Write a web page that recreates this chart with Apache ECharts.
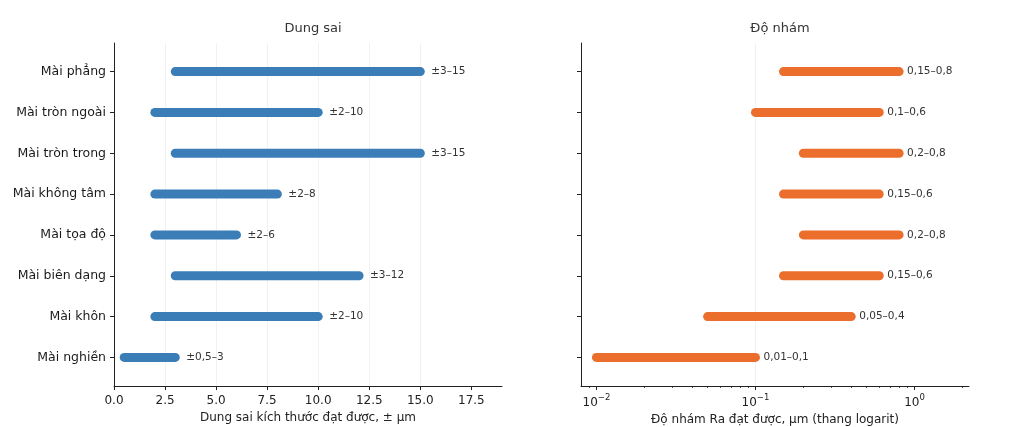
<!DOCTYPE html>
<html>
<head>
<meta charset="utf-8">
<script src="https://cdn.jsdelivr.net/npm/echarts@6/dist/echarts.min.js"></script>
<style>html,body{margin:0;padding:0;background:#fff;}#c{width:1024px;height:427px;}</style>
</head>
<body>
<div id="c"></div>
<script>
const categories = ['Mài phẳng','Mài tròn ngoài','Mài tròn trong','Mài không tâm','Mài tọa độ','Mài biên dạng','Mài khôn','Mài nghiền'];
const tolMin = [3, 2, 3, 2, 2, 3, 2, 0.5];
const tolMax = [15, 10, 15, 8, 6, 12, 10, 3];
const tolLabels = ['±3–15','±2–10','±3–15','±2–8','±2–6','±3–12','±2–10','±0,5–3'];
const raMin = [0.15, 0.1, 0.2, 0.15, 0.2, 0.15, 0.05, 0.01];
const raMax = [0.8, 0.6, 0.8, 0.6, 0.8, 0.6, 0.4, 0.1];
const raLabels = ['0,15–0,8','0,1–0,6','0,2–0,8','0,15–0,6','0,2–0,8','0,15–0,6','0,05–0,4','0,01–0,1'];
const tolTicks = [0, 2.5, 5, 7.5, 10, 12.5, 15, 17.5];
const raTicks = [0.01, 0.1, 1];
const raTickExp = ['−2','−1','0'];
const raMinorTicks = [0.009,0.02,0.03,0.04,0.05,0.06,0.07,0.08,0.09,0.2,0.3,0.4,0.5,0.6,0.7,0.8,0.9,2];

const FONT = 'DejaVu Sans';
const rows = categories.map((c, i) => i);

function makeRender(color, labels, off) {
  return function (params, api) {
    const y = api.value(1);
    const p1 = api.coord([api.value(0), y]);
    const p2 = api.coord([api.value(2), y]);
    return {
      type: 'group',
      children: [
        { type: 'line', shape: { x1: p1[0], y1: p1[1], x2: p2[0], y2: p2[1] },
          style: { stroke: color, lineWidth: 9, lineCap: 'round' } },
        { type: 'text', x: p2[0] + off, y: p2[1],
          style: { text: labels[params.dataIndex], fill: '#333', font: '10.5px "' + FONT + '"', verticalAlign: 'middle', align: 'left' } }
      ]
    };
  };
}

const yBase = {
  type: 'value', min: -0.7, max: 7.7, inverse: true,
  axisLine: { show: true, onZero: false, lineStyle: { color: '#222', width: 1 } },
  axisTick: { show: true, length: 4, customValues: rows, lineStyle: { color: '#222' } },
  splitLine: { show: false }
};

const chart = echarts.init(document.getElementById('c'));
chart.setOption({
  animation: false,
  backgroundColor: '#fff',
  textStyle: { fontFamily: FONT },
  title: [
    { text: 'Dung sai', left: 308, top: 17, textAlign: 'center', textStyle: { fontSize: 13, fontWeight: 'normal', color: '#333', fontFamily: FONT } },
    { text: 'Độ nhám', left: 775, top: 17, textAlign: 'center', textStyle: { fontSize: 13, fontWeight: 'normal', color: '#333', fontFamily: FONT } }
  ],
  grid: [
    { left: 114, right: 522, top: 43, bottom: 41, containLabel: false, outerBoundsMode: 'none' },
    { left: 581, right: 55, top: 43, bottom: 41, containLabel: false, outerBoundsMode: 'none' }
  ],
  xAxis: [
    { type: 'value', gridIndex: 0, min: 0, max: 19, interval: 2.5,
      name: 'Dung sai kích thước đạt được, ± μm', nameLocation: 'middle', nameGap: 26,
      nameTextStyle: { fontSize: 12, color: '#222', fontFamily: FONT },
      axisLine: { onZero: false, lineStyle: { color: '#222', width: 1 } },
      axisTick: { length: 4, customValues: tolTicks, lineStyle: { color: '#222' } },
      axisLabel: { customValues: tolTicks, fontSize: 12, color: '#222', margin: 9, fontFamily: FONT,
        formatter: v => v.toFixed(1) },
      splitLine: { show: true, showMinLine: false, showMaxLine: false, lineStyle: { color: '#eeeeee', width: 0.8 } } },
    { type: 'log', gridIndex: 1, logBase: 10, min: 0.008, max: 2.2,
      name: 'Độ nhám Ra đạt được, μm (thang logarit)', nameLocation: 'middle', nameGap: 26,
      nameTextStyle: { fontSize: 12, color: '#222', fontFamily: FONT },
      axisLine: { onZero: false, lineStyle: { color: '#222', width: 1 } },
      axisTick: { length: 4, customValues: raTicks, lineStyle: { color: '#222' } },
      axisLabel: { customValues: raTicks, color: '#222', margin: 7, fontFamily: FONT,
        formatter: v => {
          const i = raTicks.findIndex(t => Math.abs(Math.log10(t) - Math.log10(v)) < 1e-6);
          return i < 0 ? '' : '{a|10}{b|' + raTickExp[i] + '}';
        },
        rich: {
          a: { fontSize: 12, color: '#222', fontFamily: FONT, lineHeight: 16, verticalAlign: 'bottom' },
          b: { fontSize: 8.5, color: '#222', fontFamily: FONT, lineHeight: 10, verticalAlign: 'top' }
        } },
      splitLine: { show: true, showMinLine: false, showMaxLine: false, lineStyle: { color: '#eeeeee', width: 0.8 } } },
    { type: 'log', gridIndex: 1, logBase: 10, min: 0.008, max: 2.2, position: 'bottom',
      axisLine: { show: false, onZero: false },
      axisTick: { show: true, length: 2, customValues: raMinorTicks, lineStyle: { color: '#222', width: 0.8 } },
      axisLabel: { show: false },
      splitLine: { show: false } }
  ],
  yAxis: [
    Object.assign({}, yBase, { gridIndex: 0,
      axisLabel: { customValues: rows, fontSize: 12.5, color: '#1a1a1a', margin: 8, fontFamily: FONT,
        formatter: v => categories[Math.round(v)] } }),
    Object.assign({}, yBase, { gridIndex: 1, axisLabel: { show: false } })
  ],
  series: [
    { type: 'custom', xAxisIndex: 0, yAxisIndex: 0, renderItem: makeRender('#3a7db7', tolLabels, 11),
      encode: { x: [0, 2], y: 1 },
      data: rows.map(i => [tolMin[i], i, tolMax[i]]) },
    { type: 'custom', xAxisIndex: 1, yAxisIndex: 1, renderItem: makeRender('#eb6e2d', raLabels, 8),
      encode: { x: [0, 2], y: 1 },
      data: rows.map(i => [raMin[i], i, raMax[i]]) }
  ]
});
</script>
</body>
</html>
